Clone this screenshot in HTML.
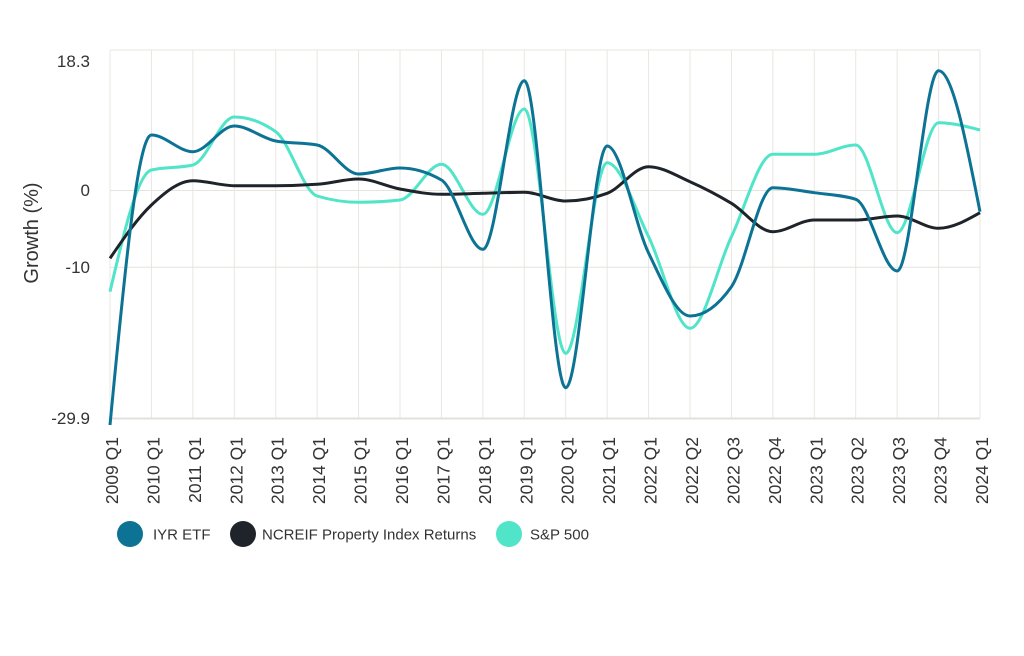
<!DOCTYPE html>
<html>
<head>
<meta charset="utf-8">
<style>
  html, body { margin:0; padding:0; background:#ffffff; }
  body { width:1024px; height:656px; overflow:hidden; }
  svg { display:block; }
  text { font-family: "Liberation Sans", sans-serif; fill:#333333; }
</style>
</head>
<body>
<svg id="chart" width="1024" height="656" viewBox="0 0 1024 656" xmlns="http://www.w3.org/2000/svg">
  <rect x="0" y="0" width="1024" height="656" fill="#ffffff"/>
  <g id="grid"></g>
  <!-- Y tick labels -->
  <text x="90" y="67" font-size="17" text-anchor="end">18.3</text>
  <text x="90" y="196" font-size="17" text-anchor="end">0</text>
  <text x="90" y="273" font-size="17" text-anchor="end">-10</text>
  <text x="90" y="424" font-size="17" text-anchor="end">-29.9</text>
  <!-- Y axis title -->
  <text transform="translate(38,233) rotate(-90)" font-size="20" text-anchor="middle">Growth (%)</text>
  <g id="xlabels"></g>
  <g id="series"></g>
  <!-- Legend -->
  <circle cx="130" cy="534" r="13" fill="#0c7394"/>
  <text x="153" y="539.5" font-size="15">IYR ETF</text>
  <circle cx="243" cy="534" r="13" fill="#1f242a"/>
  <text x="262" y="539.5" font-size="15">NCREIF Property Index Returns</text>
  <circle cx="509" cy="534" r="13" fill="#50e4c9"/>
  <text x="530" y="539.5" font-size="15">S&amp;P 500</text>
</svg>
<script>
(function(){
  var NS = "http://www.w3.org/2000/svg";
  var x0 = 110, x1 = 980, n = 22;
  var step = (x1 - x0) / (n - 1);
  var xs = [];
  for (var i = 0; i < n; i++) xs.push(x0 + i * step);
  var labels = ["2009 Q1","2010 Q1","2011 Q1","2012 Q1","2013 Q1","2014 Q1","2015 Q1","2016 Q1","2017 Q1","2018 Q1","2019 Q1","2020 Q1","2021 Q1","2022 Q1","2022 Q2","2022 Q3","2022 Q4","2023 Q1","2023 Q2","2023 Q3","2023 Q4","2024 Q1"];

  var grid = document.getElementById("grid");
  function line(xa, ya, xb, yb, col, w) {
    var l = document.createElementNS(NS, "line");
    l.setAttribute("x1", xa); l.setAttribute("y1", ya);
    l.setAttribute("x2", xb); l.setAttribute("y2", yb);
    l.setAttribute("stroke", col); l.setAttribute("stroke-width", w);
    grid.appendChild(l);
  }
  for (var i = 0; i < n; i++) line(xs[i], 50, xs[i], 418, "#e9e7e2", 1);
  line(x0, 50, x1, 50, "#e9e7e2", 1);
  line(x0, 190.5, x1, 190.5, "#e6e4de", 1);
  line(x0, 267.3, x1, 267.3, "#e6e4de", 1);
  line(x0, 418.5, x1, 418.5, "#e3e1dc", 2);

  var xl = document.getElementById("xlabels");
  for (var i = 0; i < n; i++) {
    var t = document.createElementNS(NS, "text");
    var bx = xs[i] + 8, by = 437;
    t.setAttribute("transform", "translate(" + bx + "," + by + ") rotate(-90)");
    t.setAttribute("text-anchor", "end");
    t.setAttribute("font-size", "17.5");
    t.textContent = labels[i];
    xl.appendChild(t);
  }

  function sign(v){ return v < 0 ? -1 : 1; }
  function monotonePath(ys) {
    var m = ys.length, h = step;
    var s = [];
    for (var i = 0; i < m - 1; i++) s.push((ys[i+1] - ys[i]) / h);
    var t = new Array(m);
    for (var i = 1; i < m - 1; i++) {
      var s0 = s[i-1], s1 = s[i];
      var p = (s0 * h + s1 * h) / (2 * h);
      var v = (sign(s0) + sign(s1)) * Math.min(Math.abs(s0), Math.abs(s1), 0.5 * Math.abs(p));
      t[i] = v || 0;
    }
    t[0] = (3 * s[0] - t[1]) / 2;
    t[m-1] = (3 * s[m-2] - t[m-2]) / 2;
    var d = "M" + xs[0].toFixed(2) + "," + ys[0].toFixed(2);
    for (var i = 0; i < m - 1; i++) {
      var dx = h / 3;
      d += " C" + (xs[i] + dx).toFixed(2) + "," + (ys[i] + dx * t[i]).toFixed(2) +
           " " + (xs[i+1] - dx).toFixed(2) + "," + (ys[i+1] - dx * t[i+1]).toFixed(2) +
           " " + xs[i+1].toFixed(2) + "," + ys[i+1].toFixed(2);
    }
    return d;
  }

  var iyr = [425, 135, 151.7, 126, 141, 145, 174, 168, 180, 249.3, 80.7, 387.7, 146, 253, 316, 286.7, 187.7, 192.7, 199.3, 271, 70.7, 211.7];
  var sp  = [291.7, 170, 165, 117, 131.7, 196, 202.3, 200, 164.3, 214.3, 109, 353.3, 162.7, 236.7, 328.3, 236.7, 154.3, 154.3, 145, 232.7, 122.7, 130];
  var nc  = [258.3, 205, 180.7, 185.7, 185.7, 184.3, 179, 189, 194.3, 193.3, 192.3, 201, 193.3, 166.7, 181.7, 203.3, 231.7, 220, 220, 216, 228.3, 212.7];

  var g = document.getElementById("series");
  function addPath(ys, col, w) {
    var p = document.createElementNS(NS, "path");
    p.setAttribute("d", monotonePath(ys));
    p.setAttribute("fill", "none");
    p.setAttribute("stroke", col);
    p.setAttribute("stroke-width", w);
    p.setAttribute("stroke-linejoin", "round");
    p.setAttribute("stroke-linecap", "butt");
    g.appendChild(p);
  }
  addPath(sp, "#50e4c9", 3);
  addPath(nc, "#1f242a", 3);
  addPath(iyr, "#0c7394", 3);
})();
</script>
</body>
</html>
